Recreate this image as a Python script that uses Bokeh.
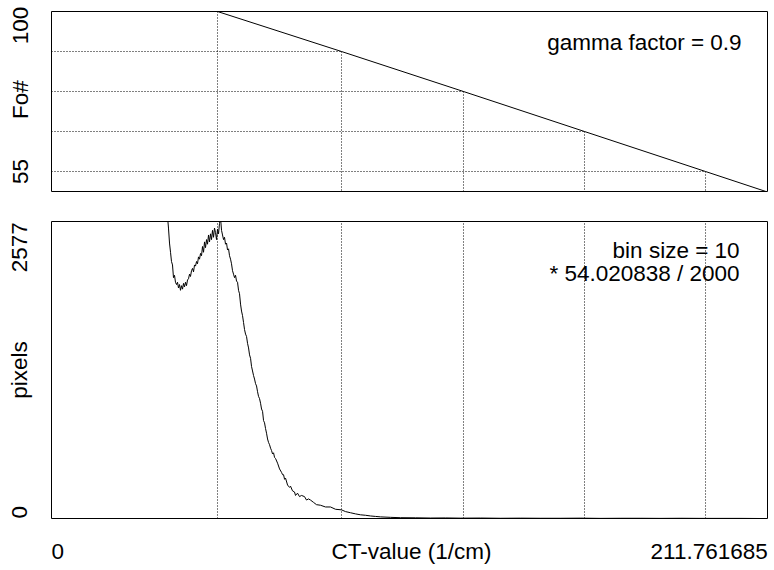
from bokeh.plotting import figure
from bokeh.layouts import column
from bokeh.models import Range1d, FixedTicker, Label
from bokeh.embed import file_html
from bokeh.resources import INLINE

FONT = "Liberation Sans"
FS = "22.5px"

# ---- data ----
ct_max = 211.761685
fo_min, fo_max = 55, 100
px_max = 2577

# Fo# mapping curve (CT value -> Fo#)
fo_ct = [49.10, 85.77, 121.85, 157.64, 193.43, 211.30]
fo_val = [100, 90, 80, 70, 60, 55]

# histogram (CT value -> pixel count)
hist_ct = [29.28, 31.65, 33.42, 34.31, 34.60, 34.90, 35.20, 35.49, 35.79, 36.08,
           36.38, 36.67, 36.97, 37.27, 37.56, 37.86, 38.15, 38.45, 38.75, 39.04,
           39.34, 39.63, 39.93, 40.23, 40.52, 40.82, 41.11, 41.41, 41.70, 42.00,
           42.30, 42.59, 42.89, 43.18, 43.48, 43.78, 44.07, 44.37, 44.66, 44.96,
           45.26, 45.55, 45.85, 46.14, 46.44, 46.73, 47.03, 47.33, 47.62, 47.92,
           48.21, 48.51, 48.81, 49.10, 49.40, 49.69, 49.99, 50.29, 50.58, 50.88,
           51.17, 51.47, 51.77, 52.06, 52.36, 52.65, 52.95, 53.24, 53.54, 53.84,
           54.13, 54.43, 54.72, 55.02, 55.32, 55.61, 55.91, 56.20, 56.50, 56.80,
           57.09, 57.39, 57.68, 57.98, 58.28, 58.57, 58.87, 59.16, 59.46, 59.76,
           60.05, 60.35, 60.64, 60.94, 61.23, 61.53, 61.83, 62.12, 62.42, 62.71,
           63.01, 63.31, 63.60, 63.90, 64.19, 64.49, 64.79, 65.08, 65.38, 65.67,
           65.97, 66.27, 66.86, 67.45, 68.04, 68.34, 68.63, 68.93, 69.22, 69.82,
           70.41, 70.70, 71.28, 71.87, 72.17, 72.76, 73.35, 73.94, 74.83, 75.42,
           76.01, 76.60, 77.49, 78.38, 79.56, 81.04, 82.52, 84.00, 85.77, 86.95,
           88.43, 89.91, 91.39, 92.87, 94.35, 95.83, 97.31, 100.3, 103.2, 107.7,
           112.1, 116.5, 121.0, 126.9, 132.8, 138.7, 144.6, 150.5, 156.5, 162.4,
           168.3, 174.2, 180.1, 186.0, 191.9, 197.9, 203.8, 209.7]
hist_count = [4200, 3300, 2900, 2620, 2520, 2390, 2310, 2230, 2200, 2090,
              2110, 2050, 2030, 2050, 2000, 2030, 1980, 2020, 1990, 2040,
              2010, 2050, 2020, 2070, 2080, 2120, 2100, 2150, 2170, 2140,
              2200, 2190, 2230, 2210, 2270, 2250, 2300, 2280, 2360, 2310,
              2400, 2350, 2420, 2380, 2460, 2400, 2470, 2420, 2500, 2440,
              2520, 2480, 2420, 2510, 2470, 2560, 2610, 2500, 2460, 2420,
              2440, 2380, 2390, 2330, 2340, 2280, 2250, 2210, 2150, 2120,
              2090, 2110, 2060, 2050, 1980, 1950, 1860, 1800, 1760, 1700,
              1640, 1600, 1580, 1520, 1480, 1420, 1390, 1320, 1280, 1240,
              1210, 1170, 1150, 1100, 1060, 1040, 1000, 950, 930, 850,
              830, 780, 740, 690, 660, 640, 610, 590, 560, 570,
              530, 520, 480, 430, 400, 380, 380, 340, 350, 290,
              270, 280, 240, 230, 200, 220, 190, 200, 190, 160,
              170, 160, 140, 120, 115, 100, 100, 80, 75, 60,
              50, 40, 32, 28, 22, 18, 14, 10, 7, 6,
              4, 5, 3, 4, 2, 3, 2, 2, 3, 1,
              2, 2, 1, 2, 1, 1, 1, 0]

# tick labels (rendered in one line like the original)
top_ticks = [96.5, 78.0, 60.0]
top_tick_labels = ["100", "Fo#", "55"]
bot_ticks = [54.0, 1288.0, 2354.0]
bot_tick_labels = ["0", "pixels", "2577"]
x_ticks = [1.86, 106.5, 194.5]
x_tick_labels = ["0", "CT-value (1/cm)", "211.761685"]

gamma_text = "gamma factor = 0.9"
bin_text = ["bin size = 10", "* 54.020838 / 2000"]

# ---- plot ----
grid_ct = fo_ct[:5]
grid_fo = fo_val[:5]

xr = Range1d(0, ct_max)


def style_axis(ax, standoff, vertical=False):
    ax.axis_line_color = None
    ax.major_tick_line_color = None
    ax.minor_tick_line_color = None
    ax.major_label_text_font = FONT
    ax.major_label_text_font_size = FS
    ax.major_label_text_color = "black"
    ax.major_label_standoff = standoff
    if vertical:
        ax.major_label_orientation = "vertical"


def style_fig(p):
    p.grid.visible = False
    p.outline_line_color = "black"
    p.outline_line_width = 1
    p.background_fill_color = "white"
    p.border_fill_color = "white"


p1 = figure(width=770, height=210, x_range=xr, y_range=Range1d(fo_min, fo_max),
            output_backend="svg", toolbar_location=None, x_axis_location=None,
            min_border_left=51, min_border_right=3, min_border_top=11,
            min_border_bottom=19)
style_fig(p1)
p1.yaxis.ticker = FixedTicker(ticks=top_ticks)
p1.yaxis.major_label_overrides = dict(zip(top_ticks, top_tick_labels))
style_axis(p1.yaxis[0], 13, vertical=True)

p1.segment(x0=[0] * len(grid_ct), y0=grid_fo, x1=grid_ct, y1=grid_fo,
           line_color="black", line_width=1, line_dash="1 2")
p1.segment(x0=grid_ct, y0=grid_fo, x1=grid_ct, y1=[fo_min] * len(grid_ct),
           line_color="black", line_width=1, line_dash="1 2")
p1.line(fo_ct, fo_val, line_color="black", line_width=1)
p1.add_layout(Label(x=204.1, y=92.35, text=gamma_text, text_align="right",
                    text_baseline="alphabetic", text_font=FONT,
                    text_font_size=FS, text_color="black"))

p2 = figure(width=770, height=356, x_range=xr, y_range=Range1d(0, px_max),
            output_backend="svg", toolbar_location=None,
            min_border_left=51, min_border_right=3, min_border_top=11,
            min_border_bottom=45)
style_fig(p2)
p2.yaxis.ticker = FixedTicker(ticks=bot_ticks)
p2.yaxis.major_label_overrides = dict(zip(bot_ticks, bot_tick_labels))
style_axis(p2.yaxis[0], 13, vertical=True)
p2.xaxis.ticker = FixedTicker(ticks=x_ticks)
p2.xaxis.major_label_overrides = dict(zip(x_ticks, x_tick_labels))
style_axis(p2.xaxis[0], 14)

p2.segment(x0=grid_ct, y0=[0] * len(grid_ct), x1=grid_ct, y1=[px_max] * len(grid_ct),
           line_color="black", line_width=1, line_dash="1 2")
p2.line(hist_ct, hist_count, line_color="black", line_width=1)
p2.add_layout(Label(x=203.5, y=2328, text=bin_text[0], text_align="right",
                    text_baseline="alphabetic", text_font=FONT,
                    text_font_size=FS, text_color="black"))
p2.add_layout(Label(x=203.5, y=2130, text=bin_text[1], text_align="right",
                    text_baseline="alphabetic", text_font=FONT,
                    text_font_size=FS, text_color="black"))

layout = column(p1, p2, spacing=0)
open("out.html", "w").write(file_html(layout, INLINE))
